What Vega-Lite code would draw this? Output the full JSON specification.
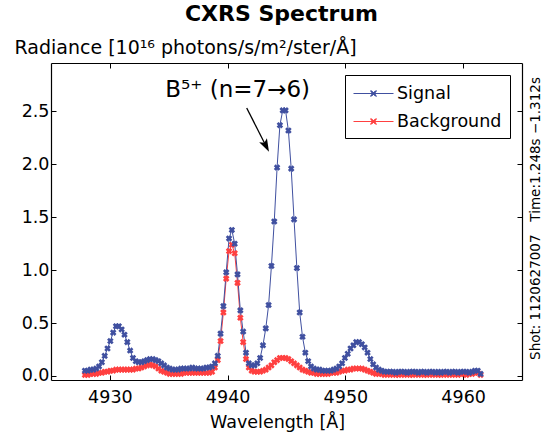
{
"$schema":"https://vega.github.io/schema/vega-lite/v6.json",
"width":471,"height":317,
"autosize":{"type":"none"},
"padding":{"left":51,"top":63,"right":25,"bottom":57},
"background":"white",
"config":{"view":{"stroke":null},"font":"DejaVu Sans"},
"title":{"text":"CXRS Spectrum","font":"DejaVu Sans","fontSize":22,"fontWeight":"bold","color":"black","anchor":"middle","offset":12,"dx":-5},
"datasets":{
"spec":[
{"w":4927.88,"r":0.01,"s":"Background"},{"w":4928.12,"r":0.01,"s":"Background"},{"w":4928.36,"r":0.02,"s":"Background"},{"w":4928.60,"r":0.02,"s":"Background"},{"w":4928.84,"r":0.02,"s":"Background"},{"w":4929.08,"r":0.03,"s":"Background"},{"w":4929.32,"r":0.03,"s":"Background"},{"w":4929.56,"r":0.04,"s":"Background"},{"w":4929.80,"r":0.04,"s":"Background"},{"w":4930.04,"r":0.05,"s":"Background"},
{"w":4930.28,"r":0.05,"s":"Background"},{"w":4930.52,"r":0.06,"s":"Background"},{"w":4930.76,"r":0.06,"s":"Background"},{"w":4931.00,"r":0.06,"s":"Background"},{"w":4931.24,"r":0.06,"s":"Background"},{"w":4931.48,"r":0.06,"s":"Background"},{"w":4931.72,"r":0.06,"s":"Background"},{"w":4931.96,"r":0.06,"s":"Background"},{"w":4932.20,"r":0.07,"s":"Background"},{"w":4932.44,"r":0.07,"s":"Background"},
{"w":4932.68,"r":0.08,"s":"Background"},{"w":4932.92,"r":0.09,"s":"Background"},{"w":4933.16,"r":0.10,"s":"Background"},{"w":4933.40,"r":0.11,"s":"Background"},{"w":4933.64,"r":0.10,"s":"Background"},{"w":4933.88,"r":0.09,"s":"Background"},{"w":4934.12,"r":0.07,"s":"Background"},{"w":4934.36,"r":0.05,"s":"Background"},{"w":4934.60,"r":0.04,"s":"Background"},{"w":4934.84,"r":0.03,"s":"Background"},
{"w":4935.08,"r":0.02,"s":"Background"},{"w":4935.32,"r":0.02,"s":"Background"},{"w":4935.56,"r":0.02,"s":"Background"},{"w":4935.80,"r":0.02,"s":"Background"},{"w":4936.04,"r":0.02,"s":"Background"},{"w":4936.28,"r":0.03,"s":"Background"},{"w":4936.52,"r":0.03,"s":"Background"},{"w":4936.76,"r":0.03,"s":"Background"},{"w":4937.00,"r":0.03,"s":"Background"},{"w":4937.24,"r":0.03,"s":"Background"},
{"w":4937.48,"r":0.03,"s":"Background"},{"w":4937.72,"r":0.03,"s":"Background"},{"w":4937.96,"r":0.03,"s":"Background"},{"w":4938.20,"r":0.03,"s":"Background"},{"w":4938.44,"r":0.03,"s":"Background"},{"w":4938.68,"r":0.04,"s":"Background"},{"w":4938.92,"r":0.08,"s":"Background"},{"w":4939.16,"r":0.15,"s":"Background"},{"w":4939.40,"r":0.33,"s":"Background"},{"w":4939.64,"r":0.60,"s":"Background"},
{"w":4939.88,"r":0.92,"s":"Background"},{"w":4940.12,"r":1.18,"s":"Background"},{"w":4940.36,"r":1.24,"s":"Background"},{"w":4940.60,"r":1.16,"s":"Background"},{"w":4940.84,"r":0.88,"s":"Background"},{"w":4941.08,"r":0.55,"s":"Background"},{"w":4941.32,"r":0.32,"s":"Background"},{"w":4941.56,"r":0.16,"s":"Background"},{"w":4941.80,"r":0.08,"s":"Background"},{"w":4942.04,"r":0.05,"s":"Background"},
{"w":4942.28,"r":0.04,"s":"Background"},{"w":4942.52,"r":0.04,"s":"Background"},{"w":4942.76,"r":0.04,"s":"Background"},{"w":4943.00,"r":0.05,"s":"Background"},{"w":4943.24,"r":0.06,"s":"Background"},{"w":4943.48,"r":0.08,"s":"Background"},{"w":4943.72,"r":0.10,"s":"Background"},{"w":4943.96,"r":0.13,"s":"Background"},{"w":4944.20,"r":0.15,"s":"Background"},{"w":4944.44,"r":0.17,"s":"Background"},
{"w":4944.68,"r":0.17,"s":"Background"},{"w":4944.92,"r":0.17,"s":"Background"},{"w":4945.16,"r":0.16,"s":"Background"},{"w":4945.40,"r":0.14,"s":"Background"},{"w":4945.64,"r":0.12,"s":"Background"},{"w":4945.88,"r":0.10,"s":"Background"},{"w":4946.12,"r":0.08,"s":"Background"},{"w":4946.36,"r":0.06,"s":"Background"},{"w":4946.60,"r":0.05,"s":"Background"},{"w":4946.84,"r":0.04,"s":"Background"},
{"w":4947.08,"r":0.03,"s":"Background"},{"w":4947.32,"r":0.03,"s":"Background"},{"w":4947.56,"r":0.02,"s":"Background"},{"w":4947.80,"r":0.02,"s":"Background"},{"w":4948.04,"r":0.02,"s":"Background"},{"w":4948.28,"r":0.02,"s":"Background"},{"w":4948.52,"r":0.02,"s":"Background"},{"w":4948.76,"r":0.03,"s":"Background"},{"w":4949.00,"r":0.03,"s":"Background"},{"w":4949.24,"r":0.03,"s":"Background"},
{"w":4949.48,"r":0.04,"s":"Background"},{"w":4949.72,"r":0.05,"s":"Background"},{"w":4949.96,"r":0.05,"s":"Background"},{"w":4950.20,"r":0.06,"s":"Background"},{"w":4950.44,"r":0.06,"s":"Background"},{"w":4950.68,"r":0.07,"s":"Background"},{"w":4950.92,"r":0.07,"s":"Background"},{"w":4951.16,"r":0.07,"s":"Background"},{"w":4951.40,"r":0.07,"s":"Background"},{"w":4951.64,"r":0.06,"s":"Background"},
{"w":4951.88,"r":0.05,"s":"Background"},{"w":4952.12,"r":0.04,"s":"Background"},{"w":4952.36,"r":0.03,"s":"Background"},{"w":4952.60,"r":0.02,"s":"Background"},{"w":4952.84,"r":0.02,"s":"Background"},{"w":4953.08,"r":0.02,"s":"Background"},{"w":4953.32,"r":0.01,"s":"Background"},{"w":4953.56,"r":0.02,"s":"Background"},{"w":4953.80,"r":0.01,"s":"Background"},{"w":4954.04,"r":0.02,"s":"Background"},
{"w":4954.28,"r":0.01,"s":"Background"},{"w":4954.52,"r":0.01,"s":"Background"},{"w":4954.76,"r":0.02,"s":"Background"},{"w":4955.00,"r":0.01,"s":"Background"},{"w":4955.24,"r":0.02,"s":"Background"},{"w":4955.48,"r":0.01,"s":"Background"},{"w":4955.72,"r":0.01,"s":"Background"},{"w":4955.96,"r":0.02,"s":"Background"},{"w":4956.20,"r":0.01,"s":"Background"},{"w":4956.44,"r":0.02,"s":"Background"},
{"w":4956.68,"r":0.01,"s":"Background"},{"w":4956.92,"r":0.01,"s":"Background"},{"w":4957.16,"r":0.02,"s":"Background"},{"w":4957.40,"r":0.01,"s":"Background"},{"w":4957.64,"r":0.02,"s":"Background"},{"w":4957.88,"r":0.01,"s":"Background"},{"w":4958.12,"r":0.01,"s":"Background"},{"w":4958.36,"r":0.02,"s":"Background"},{"w":4958.60,"r":0.01,"s":"Background"},{"w":4958.84,"r":0.02,"s":"Background"},
{"w":4959.08,"r":0.01,"s":"Background"},{"w":4959.32,"r":0.02,"s":"Background"},{"w":4959.56,"r":0.01,"s":"Background"},{"w":4959.80,"r":0.02,"s":"Background"},{"w":4960.04,"r":0.02,"s":"Background"},{"w":4960.28,"r":0.01,"s":"Background"},{"w":4960.52,"r":0.02,"s":"Background"},{"w":4960.76,"r":0.02,"s":"Background"},{"w":4961.00,"r":0.03,"s":"Background"},{"w":4961.24,"r":0.03,"s":"Background"},
{"w":4961.48,"r":0.01,"s":"Background"},
{"w":4927.88,"r":0.05,"s":"Signal"},{"w":4928.12,"r":0.05,"s":"Signal"},{"w":4928.36,"r":0.06,"s":"Signal"},{"w":4928.60,"r":0.06,"s":"Signal"},{"w":4928.84,"r":0.07,"s":"Signal"},{"w":4929.08,"r":0.09,"s":"Signal"},{"w":4929.32,"r":0.13,"s":"Signal"},{"w":4929.56,"r":0.19,"s":"Signal"},{"w":4929.80,"r":0.26,"s":"Signal"},{"w":4930.04,"r":0.33,"s":"Signal"},
{"w":4930.28,"r":0.41,"s":"Signal"},{"w":4930.52,"r":0.47,"s":"Signal"},{"w":4930.76,"r":0.47,"s":"Signal"},{"w":4931.00,"r":0.44,"s":"Signal"},{"w":4931.24,"r":0.39,"s":"Signal"},{"w":4931.48,"r":0.32,"s":"Signal"},{"w":4931.72,"r":0.24,"s":"Signal"},{"w":4931.96,"r":0.17,"s":"Signal"},{"w":4932.20,"r":0.14,"s":"Signal"},{"w":4932.44,"r":0.13,"s":"Signal"},
{"w":4932.68,"r":0.13,"s":"Signal"},{"w":4932.92,"r":0.14,"s":"Signal"},{"w":4933.16,"r":0.15,"s":"Signal"},{"w":4933.40,"r":0.16,"s":"Signal"},{"w":4933.64,"r":0.16,"s":"Signal"},{"w":4933.88,"r":0.15,"s":"Signal"},{"w":4934.12,"r":0.14,"s":"Signal"},{"w":4934.36,"r":0.12,"s":"Signal"},{"w":4934.60,"r":0.10,"s":"Signal"},{"w":4934.84,"r":0.08,"s":"Signal"},
{"w":4935.08,"r":0.07,"s":"Signal"},{"w":4935.32,"r":0.06,"s":"Signal"},{"w":4935.56,"r":0.06,"s":"Signal"},{"w":4935.80,"r":0.06,"s":"Signal"},{"w":4936.04,"r":0.07,"s":"Signal"},{"w":4936.28,"r":0.07,"s":"Signal"},{"w":4936.52,"r":0.07,"s":"Signal"},{"w":4936.76,"r":0.07,"s":"Signal"},{"w":4937.00,"r":0.08,"s":"Signal"},{"w":4937.24,"r":0.07,"s":"Signal"},
{"w":4937.48,"r":0.07,"s":"Signal"},{"w":4937.72,"r":0.07,"s":"Signal"},{"w":4937.96,"r":0.07,"s":"Signal"},{"w":4938.20,"r":0.08,"s":"Signal"},{"w":4938.44,"r":0.08,"s":"Signal"},{"w":4938.68,"r":0.09,"s":"Signal"},{"w":4938.92,"r":0.12,"s":"Signal"},{"w":4939.16,"r":0.19,"s":"Signal"},{"w":4939.40,"r":0.40,"s":"Signal"},{"w":4939.64,"r":0.66,"s":"Signal"},
{"w":4939.88,"r":0.98,"s":"Signal"},{"w":4940.12,"r":1.30,"s":"Signal"},{"w":4940.36,"r":1.38,"s":"Signal"},{"w":4940.60,"r":1.25,"s":"Signal"},{"w":4940.84,"r":0.96,"s":"Signal"},{"w":4941.08,"r":0.62,"s":"Signal"},{"w":4941.32,"r":0.42,"s":"Signal"},{"w":4941.56,"r":0.22,"s":"Signal"},{"w":4941.80,"r":0.12,"s":"Signal"},{"w":4942.04,"r":0.10,"s":"Signal"},
{"w":4942.28,"r":0.10,"s":"Signal"},{"w":4942.52,"r":0.12,"s":"Signal"},{"w":4942.76,"r":0.17,"s":"Signal"},{"w":4943.00,"r":0.29,"s":"Signal"},{"w":4943.24,"r":0.45,"s":"Signal"},{"w":4943.48,"r":0.67,"s":"Signal"},{"w":4943.72,"r":1.04,"s":"Signal"},{"w":4943.96,"r":1.46,"s":"Signal"},{"w":4944.20,"r":1.97,"s":"Signal"},{"w":4944.44,"r":2.37,"s":"Signal"},
{"w":4944.68,"r":2.51,"s":"Signal"},{"w":4944.92,"r":2.51,"s":"Signal"},{"w":4945.16,"r":2.32,"s":"Signal"},{"w":4945.40,"r":1.96,"s":"Signal"},{"w":4945.64,"r":1.48,"s":"Signal"},{"w":4945.88,"r":1.02,"s":"Signal"},{"w":4946.12,"r":0.60,"s":"Signal"},{"w":4946.36,"r":0.37,"s":"Signal"},{"w":4946.60,"r":0.22,"s":"Signal"},{"w":4946.84,"r":0.14,"s":"Signal"},
{"w":4947.08,"r":0.09,"s":"Signal"},{"w":4947.32,"r":0.07,"s":"Signal"},{"w":4947.56,"r":0.06,"s":"Signal"},{"w":4947.80,"r":0.06,"s":"Signal"},{"w":4948.04,"r":0.05,"s":"Signal"},{"w":4948.28,"r":0.05,"s":"Signal"},{"w":4948.52,"r":0.05,"s":"Signal"},{"w":4948.76,"r":0.05,"s":"Signal"},{"w":4949.00,"r":0.06,"s":"Signal"},{"w":4949.24,"r":0.07,"s":"Signal"},
{"w":4949.48,"r":0.09,"s":"Signal"},{"w":4949.72,"r":0.12,"s":"Signal"},{"w":4949.96,"r":0.17,"s":"Signal"},{"w":4950.20,"r":0.21,"s":"Signal"},{"w":4950.44,"r":0.26,"s":"Signal"},{"w":4950.68,"r":0.29,"s":"Signal"},{"w":4950.92,"r":0.32,"s":"Signal"},{"w":4951.16,"r":0.32,"s":"Signal"},{"w":4951.40,"r":0.30,"s":"Signal"},{"w":4951.64,"r":0.27,"s":"Signal"},
{"w":4951.88,"r":0.22,"s":"Signal"},{"w":4952.12,"r":0.16,"s":"Signal"},{"w":4952.36,"r":0.11,"s":"Signal"},{"w":4952.60,"r":0.08,"s":"Signal"},{"w":4952.84,"r":0.06,"s":"Signal"},{"w":4953.08,"r":0.05,"s":"Signal"},{"w":4953.32,"r":0.04,"s":"Signal"},{"w":4953.56,"r":0.04,"s":"Signal"},{"w":4953.80,"r":0.04,"s":"Signal"},{"w":4954.04,"r":0.04,"s":"Signal"},
{"w":4954.28,"r":0.03,"s":"Signal"},{"w":4954.52,"r":0.04,"s":"Signal"},{"w":4954.76,"r":0.04,"s":"Signal"},{"w":4955.00,"r":0.04,"s":"Signal"},{"w":4955.24,"r":0.03,"s":"Signal"},{"w":4955.48,"r":0.04,"s":"Signal"},{"w":4955.72,"r":0.04,"s":"Signal"},{"w":4955.96,"r":0.04,"s":"Signal"},{"w":4956.20,"r":0.03,"s":"Signal"},{"w":4956.44,"r":0.04,"s":"Signal"},
{"w":4956.68,"r":0.04,"s":"Signal"},{"w":4956.92,"r":0.03,"s":"Signal"},{"w":4957.16,"r":0.04,"s":"Signal"},{"w":4957.40,"r":0.04,"s":"Signal"},{"w":4957.64,"r":0.03,"s":"Signal"},{"w":4957.88,"r":0.04,"s":"Signal"},{"w":4958.12,"r":0.03,"s":"Signal"},{"w":4958.36,"r":0.04,"s":"Signal"},{"w":4958.60,"r":0.04,"s":"Signal"},{"w":4958.84,"r":0.03,"s":"Signal"},
{"w":4959.08,"r":0.04,"s":"Signal"},{"w":4959.32,"r":0.04,"s":"Signal"},{"w":4959.56,"r":0.03,"s":"Signal"},{"w":4959.80,"r":0.04,"s":"Signal"},{"w":4960.04,"r":0.04,"s":"Signal"},{"w":4960.28,"r":0.04,"s":"Signal"},{"w":4960.52,"r":0.03,"s":"Signal"},{"w":4960.76,"r":0.04,"s":"Signal"},{"w":4961.00,"r":0.05,"s":"Signal"},{"w":4961.24,"r":0.05,"s":"Signal"},
{"w":4961.48,"r":0.02,"s":"Signal"}
],
"ann":[
{"kind":"arrow","x":4941.62,"y":2.533,"x2":4943.14,"y2":2.2},
{"kind":"head","x":4943.14,"y":2.2},
{"kind":"label","x":4940.85,"y":2.7,"label":"B⁵⁺ (n=7→6)"}
]
},
"resolve":{"axis":{"x":"independent","y":"independent"}},
"layer":[
{
"data":{"name":"spec"},
"mark":{"type":"line","strokeWidth":1},
"encoding":{
"x":{"field":"w","type":"quantitative","scale":{"domain":[4925,4965],"nice":false,"zero":false},
 "axis":{"orient":"bottom","values":[4930,4940,4950,4960],"format":"d","grid":false,"tickSize":-5,"tickColor":"black","tickWidth":1,"domainColor":"black","domainWidth":1.2,"labelFont":"DejaVu Sans","labelFontSize":17.5,"labelColor":"black","labelPadding":13,"labelFlush":false,"title":"Wavelength [Å]","titleFont":"DejaVu Sans","titleFontSize":17.5,"titleFontWeight":"normal","titleColor":"black","titleX":226,"titleY":42,"titleBaseline":"middle","titleAlign":"center"}},
"y":{"field":"r","type":"quantitative","scale":{"domain":[-0.038,2.958],"nice":false,"zero":false},
 "axis":{"orient":"left","values":[0,0.5,1,1.5,2,2.5],"format":".1f","grid":false,"tickSize":-5,"tickColor":"black","tickWidth":1,"domainColor":"black","domainWidth":1.2,"labelFont":"DejaVu Sans","labelFontSize":17.5,"labelColor":"black","labelPadding":7,"labelFlush":false,"title":"Radiance [10¹⁶ photons/s/m²/ster/Å]","titleFont":"DejaVu Sans","titleFontSize":19,"titleFontWeight":"normal","titleColor":"black","titleAngle":0,"titleAlign":"left","titleBaseline":"middle","titleX":-37,"titleY":-16}},
"color":{"field":"s","type":"nominal","scale":{"domain":["Signal","Background"],"range":["#4050a0","#ff4040"]},
 "legend":{"orient":"none","legendX":294,"legendY":12,"title":null,"strokeColor":"black","fillColor":"white","padding":8,"cornerRadius":0,"labelFont":"DejaVu Sans","labelFontSize":17.5,"labelColor":"black","symbolType":"M-2,0L2,0M-0.3,-0.3L0.3,0.3M-0.3,0.3L0.3,-0.3M-0.3,-0.22L0.22,0.3M-0.22,-0.3L0.3,0.22M-0.3,0.22L0.22,-0.3M-0.22,0.3L0.3,-0.22","symbolSize":400,"symbolStrokeWidth":1,"symbolOffset":10,"labelOffset":13,"rowPadding":9}}
}
},
{
"data":{"name":"spec"},
"mark":{"type":"point","shape":"cross","angle":45,"filled":true,"size":44,"opacity":1,"strokeWidth":0},
"encoding":{
"x":{"field":"w","type":"quantitative","scale":{"domain":[4925,4965],"nice":false,"zero":false},"axis":null},
"y":{"field":"r","type":"quantitative","scale":{"domain":[-0.038,2.958],"nice":false,"zero":false},"axis":null},
"fill":{"field":"s","type":"nominal","scale":{"domain":["Signal","Background"],"range":["#4050a0","#ff4040"]},"legend":null}
}
},
{
"data":{"name":"ann"},
"transform":[{"filter":"datum.kind == 'arrow'"}],
"mark":{"type":"rule","color":"black","strokeWidth":1.3},
"encoding":{
"x":{"field":"x","type":"quantitative","scale":{"domain":[4925,4965],"nice":false,"zero":false},
 "axis":{"orient":"top","values":[4930,4940,4950,4960],"labels":false,"grid":false,"tickSize":-5,"tickColor":"black","tickWidth":1,"domainColor":"black","domainWidth":1.2,"title":null}},
"y":{"field":"y","type":"quantitative","scale":{"domain":[-0.038,2.958],"nice":false,"zero":false},
 "axis":{"orient":"right","values":[0,0.5,1,1.5,2,2.5],"labels":false,"grid":false,"tickSize":-5,"tickColor":"black","tickWidth":1,"domainColor":"black","domainWidth":1.2,"title":"Shot: 1120627007\u00a0\u00a0\u00a0Time:1.248s −1.312s","titleFont":"DejaVu Sans","titleFontSize":13.5,"titleFontWeight":"normal","titleColor":"black","titleAngle":270,"titleAlign":"center","titleBaseline":"middle","titleX":13,"titleY":155}},
"x2":{"field":"x2"},
"y2":{"field":"y2"}
}
},
{
"data":{"name":"ann"},
"transform":[{"filter":"datum.kind == 'head'"}],
"mark":{"type":"point","shape":"M0,1L-0.45,-0.35L0,-0.05L0.45,-0.35Z","angle":333,"filled":true,"size":372,"color":"black","opacity":1,"strokeWidth":0},
"encoding":{
"x":{"field":"x","type":"quantitative","axis":null},
"y":{"field":"y","type":"quantitative","axis":null}
}
},
{
"data":{"name":"ann"},
"transform":[{"filter":"datum.kind == 'label'"}],
"mark":{"type":"text","font":"DejaVu Sans","fontSize":23,"color":"black","align":"center","baseline":"middle"},
"encoding":{
"x":{"field":"x","type":"quantitative","axis":null},
"y":{"field":"y","type":"quantitative","axis":null},
"text":{"field":"label"}
}
}
]
}
